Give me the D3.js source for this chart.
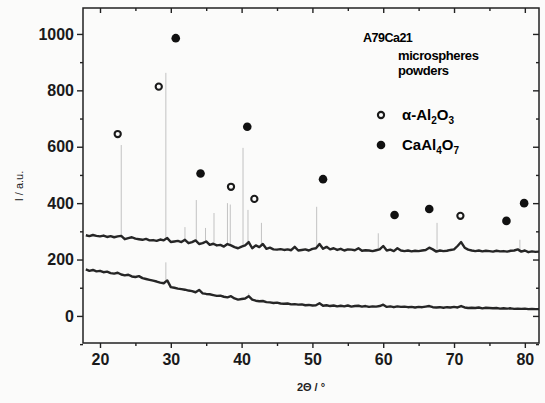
<!DOCTYPE html>
<html lang="en">
<head>
<meta charset="utf-8">
<title>A79Ca21 XRD</title>
<style>
  body { margin: 0; background: #fbfbfa; }
  svg { display: block; font-family: "Liberation Sans", Arial, sans-serif; }
  .trace { fill: none; stroke: #262626; stroke-width: 2.4; stroke-linejoin: round; }
  .spike { stroke: #c2c2c2; stroke-width: 1; }
  .axis path, .axis line { stroke: #222; stroke-width: 1.4; }
  .axis text { font-size: 16px; font-weight: bold; fill: #1a1a1a; }
</style>
</head>
<body>
<div id="container"></div>
<script src="https://cdn.jsdelivr.net/npm/d3@7"></script>
<script>

var width = 545, height = 403;

// ---- data ----
// scan grid in 2theta (degrees), one value every 0.5 deg from 18
var twoTheta = d3.range(18, 83, 0.5);

// upper pattern (microspheres)
var upperI = [
  286,283,287,284,282,285,280,283,279,282,
  284,272,276,279,274,272,270,273,268,269,
  266,271,268,276,262,264,266,262,270,258,
  262,268,255,258,264,252,256,250,252,246,
  255,250,244,240,246,250,262,240,250,244,
  255,238,242,236,235,237,234,236,233,245,
  232,234,236,232,238,240,255,238,245,236,
  240,234,238,232,236,235,233,240,231,233,
  232,230,233,236,248,232,235,230,240,232,
  230,232,229,231,230,232,234,242,236,228,
  232,230,231,234,236,248,262,242,235,232,
  230,232,229,231,230,228,231,229,230,228,
  231,232,236,228,232,226,229,227,228,226
];

// lower pattern (powders)
var lowerI = [
  165,160,163,158,160,155,157,152,150,153,
  147,144,146,140,138,141,134,131,128,125,
  122,118,116,126,102,100,97,95,93,90,
  88,84,92,80,78,77,74,71,72,68,
  66,70,62,58,60,62,70,58,54,52,
  53,49,48,46,47,44,43,44,41,42,
  40,41,38,39,37,38,45,36,38,35,
  37,34,36,34,37,33,35,36,33,35,
  32,34,33,35,40,32,34,31,34,32,
  33,31,32,30,32,31,33,35,31,30,
  31,29,31,30,32,30,35,30,28,29,
  28,30,27,29,28,27,28,26,27,26,
  27,25,26,25,26,24,25,24,24,23
];

// sharp reflections: [2theta, top intensity]
var upperSpikes = [
  [23.0, 606], [29.3, 862], [32.0, 315], [33.6, 411], [34.9, 312],
  [36.1, 365], [38.0, 400], [38.4, 395], [40.2, 596], [40.9, 376],
  [42.8, 330], [50.6, 387], [59.3, 293], [67.6, 330], [79.3, 270]
];
var lowerSpikes = [[29.3, 190], [41.0, 80]];

// phase markers: [2theta, intensity]
var alphaPeaks = [[22.5, 645], [28.3, 813], [38.5, 458], [41.8, 415], [70.9, 355]];
var caPeaks = [[30.7, 985], [34.2, 505], [40.8, 671], [51.5, 485],
               [61.6, 358], [66.5, 379], [77.4, 337], [79.9, 400]];

var xTicks = [20, 30, 40, 50, 60, 70, 80];
var xMinor = [25, 35, 45, 55, 65, 75];
var yTicks = [0, 200, 400, 600, 800, 1000];
var yMinor = [-100, 100, 300, 500, 700, 900];
// -------------------------------------

var x = d3.scaleLinear().domain([17.6, 82]).range([83, 539]);
var y = d3.scaleLinear().domain([-96, 1092]).range([343, 8]);

var svg = d3.select("#container").append("svg")
    .attr("width", width)
    .attr("height", height);

svg.append("clipPath").attr("id", "plot")
  .append("rect")
    .attr("x", x.range()[0]).attr("y", y.range()[1])
    .attr("width", x.range()[1] - x.range()[0])
    .attr("height", y.range()[0] - y.range()[1]);

var g = svg.append("g").attr("clip-path", "url(#plot)");

function series(vals) {
  return twoTheta.map(function(t, i) { return [t, vals[i]]; });
}
var upper = series(upperI), lower = series(lowerI);

// value of a trace at a given angle, to stand the spikes on
function baseAt(vals, t) {
  var i = Math.round((t - twoTheta[0]) / 0.5);
  return vals[i];
}

function drawSpikes(list, vals) {
  g.selectAll(null).data(list).enter().append("line")
    .attr("class", "spike")
    .attr("x1", function(d) { return x(d[0]); })
    .attr("x2", function(d) { return x(d[0]); })
    .attr("y1", function(d) { return y(baseAt(vals, d[0])); })
    .attr("y2", function(d) { return y(d[1]); });
}
drawSpikes(upperSpikes, upperI);
drawSpikes(lowerSpikes, lowerI);

var line = d3.line().x(function(d) { return x(d[0]); }).y(function(d) { return y(d[1]); });
g.append("path").attr("class", "trace").attr("d", line(upper));
g.append("path").attr("class", "trace").attr("d", line(lower));

// markers
g.selectAll(".alpha").data(alphaPeaks).enter().append("circle")
  .attr("cx", function(d) { return x(d[0]); })
  .attr("cy", function(d) { return y(d[1]); })
  .attr("r", 3.1)
  .style("fill", "#fbfbfa").style("stroke", "#1a1a1a").style("stroke-width", 2.1);
g.selectAll(".ca").data(caPeaks).enter().append("circle")
  .attr("cx", function(d) { return x(d[0]); })
  .attr("cy", function(d) { return y(d[1]); })
  .attr("r", 4.3)
  .style("fill", "#111");

// axes: labelled left/bottom with outward ticks, mirrored top/right inward
function axisG(axis, tx) {
  return svg.append("g").attr("class", "axis").attr("transform", tx).call(axis);
}
axisG(d3.axisBottom(x).tickValues(xMinor).tickSize(3).tickFormat(""), "translate(0,343)");
axisG(d3.axisBottom(x).tickValues(xTicks).tickSize(5).tickPadding(6).tickFormat(d3.format("d")), "translate(0,343)");
axisG(d3.axisTop(x).tickValues(xMinor).tickSize(-3).tickFormat(""), "translate(0,8)");
axisG(d3.axisTop(x).tickValues(xTicks).tickSize(-5).tickFormat(""), "translate(0,8)");
axisG(d3.axisLeft(y).tickValues(yMinor).tickSize(3).tickFormat(""), "translate(83,0)");
axisG(d3.axisLeft(y).tickValues(yTicks).tickSize(6).tickPadding(3).tickFormat(d3.format("d")), "translate(83,0)");
axisG(d3.axisRight(y).tickValues(yMinor).tickSize(-3).tickFormat(""), "translate(539,0)");
axisG(d3.axisRight(y).tickValues(yTicks).tickSize(-6).tickFormat(""), "translate(539,0)");

svg.selectAll(".axis .domain").attr("d", null);
svg.append("rect")
  .attr("x", 83).attr("y", 8).attr("width", 456).attr("height", 335)
  .style("fill", "none").style("stroke", "#222").style("stroke-width", 1.5);

// axis titles
svg.append("text")
  .attr("x", 311).attr("y", 391)
  .attr("text-anchor", "middle")
  .style("font-size", "11px").style("font-weight", "bold").style("fill", "#222")
  .text("2\u0398 / \u00b0");
svg.append("text")
  .attr("transform", "translate(23,186) rotate(-90)")
  .attr("text-anchor", "middle")
  .style("font-size", "11px").style("fill", "#222")
  .text("I / a.u.");

// legend
svg.append("text").attr("x", 363).attr("y", 42)
  .style("font-size", "12.5px").style("font-weight", "bold").style("letter-spacing", "-0.5px")
  .text("A79Ca21");
svg.append("text").attr("x", 398).attr("y", 60)
  .style("font-size", "13px").style("font-weight", "bold").style("letter-spacing", "-0.4px")
  .text("microspheres");
svg.append("text").attr("x", 398).attr("y", 75)
  .style("font-size", "13px").style("font-weight", "bold").style("letter-spacing", "-0.4px")
  .text("powders");

svg.append("circle").attr("cx", 381).attr("cy", 115).attr("r", 3.1)
  .style("fill", "#fbfbfa").style("stroke", "#1a1a1a").style("stroke-width", 2.1);
svg.append("circle").attr("cx", 381).attr("cy", 145).attr("r", 4.3).style("fill", "#111");

function formula(yPos, parts) {
  var t = svg.append("text").attr("x", 402).attr("y", yPos)
    .style("font-size", "15px").style("font-weight", "bold");
  parts.forEach(function(p) {
    var s = t.append("tspan").text(p[0]);
    if (p[1]) s.attr("dy", 4).style("font-size", "10px");
    else if (p[2]) s.attr("dy", -4);
  });
}
formula(120, [["\u03b1-Al"], ["2", true], ["O", false, true], ["3", true]]);
formula(150, [["CaAl"], ["4", true], ["O", false, true], ["7", true]]);

</script>
</body>
</html>
